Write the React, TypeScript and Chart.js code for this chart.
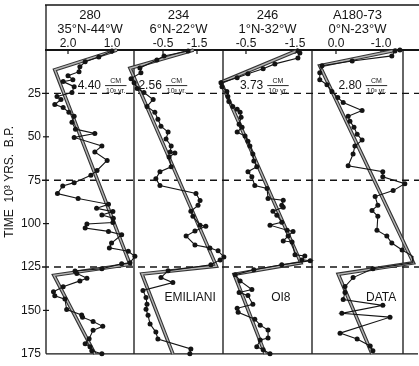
import React, { useEffect, useRef } from 'react';
import { Chart, registerables } from 'chart.js';

Chart.register(...registerables);

const FONT = "'Liberation Sans', Arial, Helvetica, sans-serif";

// ---- headers / labels ----
const coreIds = ['280', '234', '246', 'A180-73'];
const coreLocations = ['35°N-44°W', '6°N-22°W', '1°N-32°W', '0°N-23°W'];
const sedimentationRates = ['4.40', '2.56', '3.73', '2.80'];
const methodLabels = ['', 'EMILIANI', 'OI8', 'DATA'];
const timeTitle = 'TIME  10³ YRS.  B.P.';

// ---- axes ----
const panelTicks = [[2.0, 1.0], [-0.5, -1.5], [-0.5, -1.5], [0.0, -1.0]];
const panelMin = [0.5, -2.265, -1.847, -1.489];
const panelMax = [2.5, 0.353, -0.031, 0.533];
const panelWeights = [88, 89, 89, 91];
const timeTicks = [25, 50, 75, 100, 125, 150, 175];
const dashedTimes = [25, 75, 125];

// ---- core 280 ----
const p1Time = [0.6, 4.0, 6.8, 9.7, 12.5, 14.8, 17.1, 18.2, 21.1, 24.5, 26.8, 28.5, 31.4, 33.1, 35.9, 38.2, 41.6, 45.6, 48.1, 50.4, 55.3, 58.7, 63.6, 69.4, 72.2, 76.4, 78.3, 82.7, 85.5, 88.9, 91.2, 93.1, 95.0, 96.9, 99.4, 100.2, 102.6, 104.5, 106.4, 111.2, 114.0, 115.9, 118.8, 122.6, 123.1, 126.0, 127.3, 128.7, 131.5, 133.0, 136.4, 139.3, 141.6, 143.5, 149.5, 152.6, 153.9, 156.4, 159.2, 161.5, 166.3, 169.2, 171.0, 173.3, 175.0];
const p1Value = [1.00, 1.30, 1.61, 1.73, 1.75, 2.00, 1.89, 2.11, 1.86, 1.91, 2.25, 2.16, 2.30, 2.11, 1.98, 1.86, 1.91, 1.83, 1.39, 1.86, 1.23, 1.39, 1.11, 1.34, 1.48, 1.86, 2.12, 2.24, 1.77, 1.08, 1.35, 0.98, 1.23, 0.97, 0.98, 1.57, 1.61, 1.08, 0.78, 1.01, 1.06, 0.63, 0.48, 0.59, 0.78, 1.23, 1.84, 1.80, 1.57, 1.73, 2.11, 2.33, 2.30, 2.07, 2.03, 1.69, 1.67, 1.43, 1.21, 1.43, 1.52, 1.61, 1.50, 1.46, 1.23];
const m1Time = [0, 11.4, 123.5, 129.8, 175];
const m1Value = [0.89, 2.30, 0.59, 2.32, 1.39];

// ---- core 234 ----
const p2Time = [0.6, 3.4, 5.7, 10.3, 13.1, 16.5, 18.8, 22.2, 24.5, 28.5, 32.5, 35.9, 39.9, 43.9, 47.3, 51.3, 55.3, 58.7, 59.3, 61.6, 67.3, 70.1, 74.1, 78.1, 82.7, 86.7, 89.5, 92.9, 95.8, 100.9, 101.5, 104.3, 107.2, 112.3, 114.0, 115.7, 119.2, 120.9, 123.7, 127.1, 131.1, 134.0, 138.5, 142.5, 146.5, 149.4, 152.8, 157.9, 162.5, 166.5, 172.2, 175.0];
const p2Value = [-1.24, -0.53, -0.32, 0.18, 0.15, 0.44, 0.35, 0.26, 0.06, -0.21, -0.03, -0.26, -0.35, -0.44, -0.65, -0.59, -0.74, -0.71, -0.85, -0.68, -0.74, -0.41, -0.29, -0.41, -1.47, -1.59, -1.53, -1.32, -1.38, -1.59, -1.76, -1.44, -1.18, -1.44, -1.88, -2.12, -2.29, -2.18, -1.91, -0.65, -0.44, -0.79, 0.09, 0.00, -0.03, 0.00, -0.06, -0.12, -0.29, -0.35, -1.32, -1.29];
const m2Time = [0, 10.5, 124.5, 129, 175];
const m2Value = [-1.40, 0.47, -2.07, 0.12, -0.79];

// ---- core 246 ----
const p3Time = [0.6, 1.7, 4.6, 8.0, 10.8, 13.7, 16.0, 18.8, 21.1, 23.9, 26.8, 29.6, 32.5, 34.2, 35.9, 38.8, 42.8, 44.5, 47.3, 49.6, 52.5, 55.3, 59.9, 63.9, 67.3, 70.1, 73.0, 78.1, 79.8, 85.5, 86.5, 89.5, 90.6, 92.9, 95.2, 99.2, 100.9, 103.8, 104.5, 107.2, 110.0, 110.6, 118.0, 118.6, 120.9, 121.4, 123.7, 126.6, 129.4, 133.0, 138.0, 139.7, 141.4, 146.5, 148.8, 151.1, 155.1, 158.5, 161.3, 165.9, 167.0, 171.0, 172.7, 175.0];
const p3Value = [-1.56, -1.60, -1.56, -1.09, -0.85, -0.54, -0.32, 0.01, -0.01, -0.11, -0.13, -0.15, -0.23, -0.32, -0.38, -0.40, -0.36, -0.42, -0.32, -0.48, -0.54, -0.58, -0.64, -0.66, -0.72, -0.54, -0.62, -0.68, -0.93, -0.95, -1.26, -1.23, -1.26, -1.05, -1.13, -1.23, -0.99, -1.34, -1.46, -1.36, -1.26, -1.44, -1.50, -1.70, -1.64, -1.81, -1.23, -0.66, -0.28, -0.38, -0.62, -0.36, -0.54, -0.64, -0.32, -0.34, -0.68, -0.79, -0.95, -0.95, -0.79, -0.72, -0.85, -0.99];
const m3Time = [0, 18.6, 122.6, 129.2, 175];
const m3Value = [-1.57, 0.01, -1.62, -0.26, -0.89];

// ---- core A180-73 ----
const p4Time = [0.0, 0.6, 3.4, 6.3, 9.1, 13.1, 17.1, 20.0, 23.9, 27.4, 30.2, 34.8, 38.2, 41.0, 44.5, 48.5, 51.9, 55.3, 59.9, 66.7, 70.1, 73.0, 77.0, 81.0, 84.4, 89.5, 92.4, 95.8, 103.8, 107.2, 111.2, 115.2, 118.6, 122.6, 126.0, 131.1, 136.3, 139.7, 143.7, 147.1, 151.7, 153.9, 163.1, 166.5, 170.5, 173.3];
const p4Value = [-1.42, -1.31, -1.24, -0.36, 0.31, 0.36, 0.36, 0.20, 0.09, -0.04, -0.16, -0.58, -0.27, -0.31, -0.40, -0.47, -0.58, -0.42, -0.38, -0.27, -1.04, -1.04, -1.53, -1.27, -0.87, -0.93, -0.80, -0.93, -0.91, -1.13, -1.24, -1.47, -1.69, -1.71, -0.82, -0.38, -0.20, -0.20, -0.16, -1.04, -0.13, -1.20, -0.09, -0.47, -0.76, -0.82];
const m4Time = [0, 9.1, 122.6, 129.2, 175];
const m4Value = [-1.35, 0.36, -1.72, -0.05, -0.80];

// annotation placement inside each panel (fraction of panel width / time)
const rateX = [0.36, 0.05, 0.19, 0.29];
const rateTime = 20.5;
const methodX = [0.5, 0.63, 0.65, 0.76];
const methodTime = 142.5;
const titleTime = 76;

const panels = [
  { t: p1Time, v: p1Value, mt: m1Time, mv: m1Value },
  { t: p2Time, v: p2Value, mt: m2Time, mv: m2Value },
  { t: p3Time, v: p3Value, mt: m3Time, mv: m3Value },
  { t: p4Time, v: p4Value, mt: m4Time, mv: m4Value },
];

const INK = '#141414';

function seg(ctx: CanvasRenderingContext2D, x1: number, y1: number, x2: number, y2: number) {
  ctx.beginPath();
  ctx.moveTo(x1, y1);
  ctx.lineTo(x2, y2);
  ctx.stroke();
}

const framePlugin = {
  id: 'frameLines',
  beforeDatasetsDraw(chart: any) {
    const { ctx, chartArea: ca, width } = chart;
    const ys = chart.scales.y;
    ctx.save();
    ctx.strokeStyle = INK;
    ctx.setLineDash([]);
    ctx.lineWidth = 1.3;
    seg(ctx, ca.left - 1, 5, width, 5);
    seg(ctx, ca.left, 5, ca.left, ca.bottom);
    ctx.lineWidth = 2;
    seg(ctx, ca.left - 1, ca.top, width, ca.top);
    ctx.lineWidth = 1.3;
    seg(ctx, ca.left, ca.bottom, width - 1, ca.bottom);
    for (let i = 1; i < 4; i++) {
      const s = chart.scales['x' + (i + 1)];
      seg(ctx, s.left, ca.top, s.left, ca.bottom);
    }
    seg(ctx, ca.right, ca.top, ca.right, ca.bottom);
    ctx.lineWidth = 1.2;
    for (let i = 0; i < 4; i++) {
      const s = chart.scales['x' + (i + 1)];
      for (const v of panelTicks[i]) {
        const px = s.getPixelForValue(v);
        seg(ctx, px, ca.top, px, ca.top + 4);
      }
    }
    for (const t of timeTicks) {
      if (dashedTimes.includes(t) || t === 175) continue;
      const py = ys.getPixelForValue(t);
      seg(ctx, ca.left - 3, py, ca.left + 3, py);
    }
    ctx.lineWidth = 1.4;
    ctx.setLineDash([7, 5]);
    for (const t of dashedTimes) {
      const py = ys.getPixelForValue(t);
      seg(ctx, ca.left - 4, py, width, py);
    }
    ctx.restore();
  },
  afterDatasetsDraw(chart: any) {
    const { ctx } = chart;
    const ys = chart.scales.y;
    ctx.save();
    ctx.fillStyle = INK;
    ctx.strokeStyle = INK;
    // vertical time title
    ctx.save();
    ctx.translate(ys.left + 10, ys.getPixelForValue(titleTime));
    ctx.rotate(-Math.PI / 2);
    ctx.font = `12px ${FONT}`;
    ctx.textAlign = 'center';
    ctx.textBaseline = 'middle';
    ctx.fillText(timeTitle, 0, 0);
    ctx.restore();
    for (let i = 0; i < 4; i++) {
      const s = chart.scales['x' + (i + 1)];
      const py = ys.getPixelForValue(rateTime);
      const x0 = s.left + rateX[i] * s.width;
      ctx.font = `12px ${FONT}`;
      ctx.textAlign = 'left';
      ctx.textBaseline = 'middle';
      ctx.fillText(sedimentationRates[i], x0, py);
      const w = ctx.measureText(sedimentationRates[i]).width;
      ctx.font = `7px ${FONT}`;
      const denom = '10³ yr.';
      const fw = ctx.measureText(denom).width + 2;
      const fx = x0 + w + 4;
      ctx.textAlign = 'center';
      ctx.fillText('CM', fx + fw / 2, py - 5);
      ctx.fillText(denom, fx + fw / 2, py + 5);
      ctx.lineWidth = 0.9;
      ctx.setLineDash([]);
      seg(ctx, fx, py, fx + fw, py);
      if (methodLabels[i]) {
        ctx.font = `12px ${FONT}`;
        ctx.textAlign = 'center';
        ctx.fillText(methodLabels[i], s.left + methodX[i] * s.width, ys.getPixelForValue(methodTime));
      }
    }
    ctx.restore();
  },
};

export default function App() {
  const ref = useRef<HTMLCanvasElement>(null);
  useEffect(() => {
    if (!ref.current) return;
    const datasets: any[] = [];
    panels.forEach((p, i) => {
      const axis = 'x' + (i + 1);
      datasets.push({
        label: coreIds[i] + ' data',
        data: p.t.map((t, k) => ({ x: p.v[k], y: t })),
        xAxisID: axis,
        yAxisID: 'y',
        borderColor: INK,
        borderWidth: 1.1,
        pointRadius: 2.5,
        pointBackgroundColor: INK,
        pointBorderWidth: 0,
        order: 1,
        clip: false,
      });
      const model = p.mt.map((t, k) => ({ x: p.mv[k], y: t }));
      datasets.push({
        label: coreIds[i] + ' model inner',
        data: model,
        xAxisID: axis,
        yAxisID: 'y',
        borderColor: '#b4b4b4',
        borderWidth: 1.4,
        pointRadius: 0,
        order: 2,
        clip: false,
      });
      datasets.push({
        label: coreIds[i] + ' model outer',
        data: model,
        xAxisID: axis,
        yAxisID: 'y',
        borderColor: '#333333',
        borderWidth: 3.6,
        pointRadius: 0,
        order: 3,
        clip: false,
      });
    });

    const scales: any = {};
    // top boxes are placed right-to-left in insertion order, so insert the last panel first
    for (let i = 3; i >= 0; i--) {
      scales['x' + (i + 1)] = {
        type: 'linear',
        position: 'top',
        stack: 'panels',
        stackWeight: panelWeights[i],
        min: panelMin[i],
        max: panelMax[i],
        reverse: true,
        grid: { display: false, drawTicks: false },
        border: { display: false },
        afterBuildTicks: (scale: any) => {
          scale.ticks = panelTicks[i].map((v) => ({ value: v }));
        },
        afterFit: (scale: any) => {
          scale.height = 50;
        },
        ticks: {
          autoSkip: false,
          maxRotation: 0,
          padding: -1,
          color: INK,
          font: { family: FONT, size: 12 },
          callback: (v: any) => Number(v).toFixed(1),
        },
        title: {
          display: true,
          text: [coreIds[i], coreLocations[i]],
          color: INK,
          font: { family: FONT, size: 13, lineHeight: 1.08 },
          padding: { top: 8, bottom: 0 },
        },
      };
    }
    scales.y = {
      type: 'linear',
      position: 'left',
      reverse: true,
      min: 0,
      max: 175,
      grid: { display: false, drawTicks: false },
      border: { display: false },
      afterBuildTicks: (scale: any) => {
        scale.ticks = timeTicks.map((v) => ({ value: v }));
      },
      afterFit: (scale: any) => {
        scale.width = 46;
      },
      ticks: {
        autoSkip: false,
        padding: 5,
        color: INK,
        font: { family: FONT, size: 12 },
      },
      title: { display: false },
    };

    const chart = new Chart(ref.current, {
      type: 'line',
      data: { datasets },
      options: {
        animation: false,
        responsive: false,
        devicePixelRatio: 1,
        layout: { padding: { left: 0, top: 0, right: 16, bottom: 9 } },
        plugins: { legend: { display: false }, tooltip: { enabled: false } },
        scales,
      },
      plugins: [framePlugin],
    } as any);
    return () => chart.destroy();
  }, []);

  return (
    <div style={{ position: 'fixed', left: 0, top: 0, width: 419, height: 366, background: '#fff' }}>
      <canvas ref={ref} width={419} height={366} style={{ display: 'block' }} />
    </div>
  );
}
